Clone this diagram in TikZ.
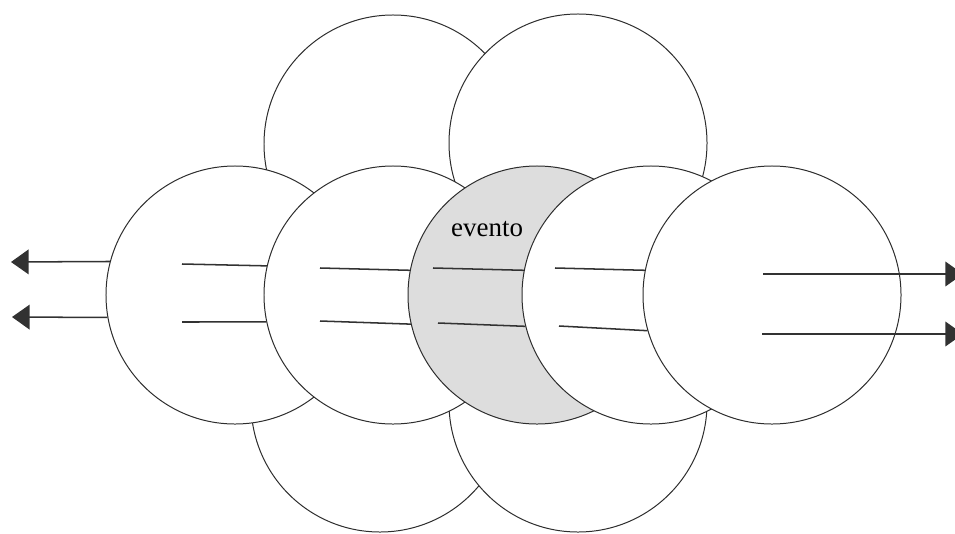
\documentclass[tikz,border=0pt]{standalone}
\usepackage{fontspec}
\setmainfont{Liberation Serif}
\usetikzlibrary{positioning,arrows.meta}
\definecolor{ringgray}{RGB}{45,45,45}
\definecolor{eventgray}{RGB}{221,221,221}
\definecolor{stickgray}{RGB}{50,50,50}

\begin{document}
\begin{tikzpicture}[x=0.03cm,y=-0.03cm,
    ring/.style={circle,draw=ringgray,line width=0.85pt,fill=white,minimum size=7.74cm,inner sep=0pt},
    stick/.style={draw=stickgray,line width=1.3pt},
    arr/.style={stick,-{Triangle[length=15pt,width=21pt]}}]
    \useasboundingbox (0,0) rectangle (955,533);
    % upper and lower pairs
    \node[ring] (t1) at (393,144) {};
    \node[ring] (t2) at (578,143) {};
    \node[ring] (b1) at (380,403) {};
    \node[ring] (b2) at (578,403) {};
    % middle row
    \node[ring] (c1) at (235,295) {};
    \node[ring] (c2) at (393,295) {};
    \node[ring,fill=eventgray] (c3) at (537,295) {};
    \node[ring] (c4) at (651,295) {};
    \node[ring] (c5) at (772,295) {};
    \node[anchor=base west,inner sep=0pt,font=\fontsize{23}{27}\selectfont] (lbl) at (451,236) {evento};
    % free ends
    \coordinate (out1) at (11,262);
    \coordinate (out2) at (12,317);
    \coordinate (s1a) at (182,264);
    \coordinate (s1b) at (182,322);
    \coordinate (s2a) at (320,268);
    \coordinate (s2b) at (320,321);
    \coordinate (s3a) at (433,268);
    \coordinate (s3b) at (438,323);
    \coordinate (s4a) at (555,268);
    \coordinate (s4b) at (559,326);
    \coordinate (s5a) at (763,274);
    \coordinate (s5b) at (762,334);
    \coordinate (out5a) at (963,274);
    \coordinate (out5b) at (963,334);
    % sticks
    \draw[arr] (c1.165) -- (out1);
    \draw[arr] (c1.190) -- (out2);
    \draw[stick] (s1a) -- (c2.167);
    \draw[stick] (s1b) -- (c2.192);
    \draw[stick] (s2a) -- (c3.169);
    \draw[stick] (s2b) -- (c3.193);
    \draw[stick] (s3a) -- (c4.169);
    \draw[stick] (s3b) -- (c4.194);
    \draw[stick] (s4a) -- (c5.169);
    \draw[stick] (s4b) -- (c5.196);
    \draw[arr] (s5a) -- (out5a);
    \draw[arr] (s5b) -- (out5b);
\end{tikzpicture}
\end{document}
